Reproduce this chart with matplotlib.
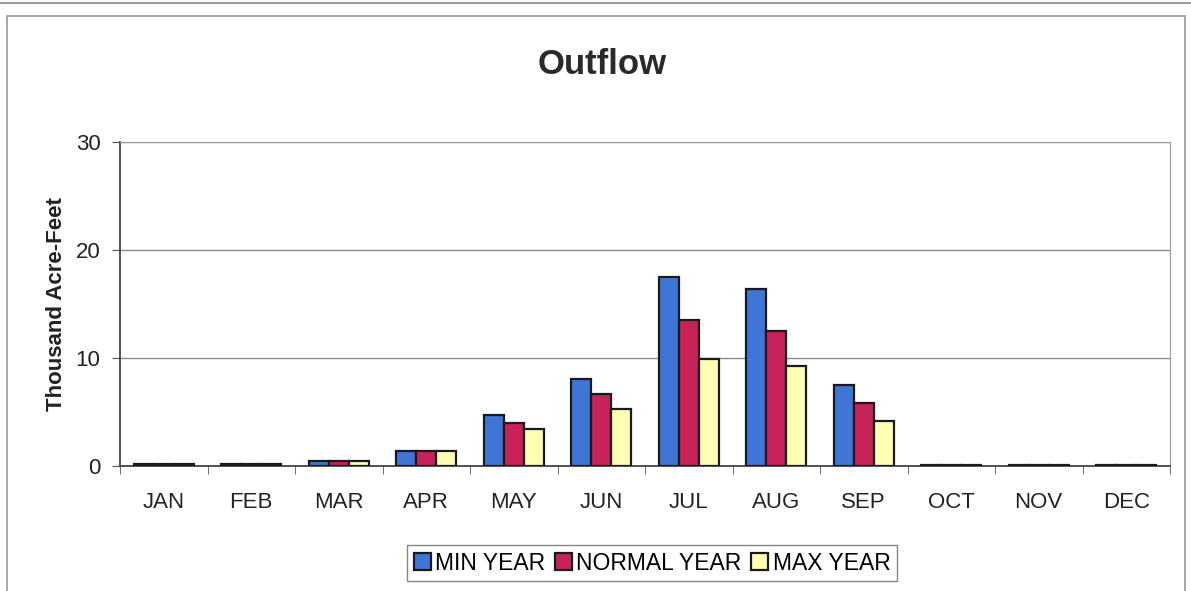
import matplotlib
matplotlib.use("Agg")
import matplotlib.pyplot as plt
import numpy as np
from matplotlib.patches import Rectangle

plt.rcParams['font.family'] = ['Liberation Sans', 'DejaVu Sans']

months = ["JAN", "FEB", "MAR", "APR", "MAY", "JUN", "JUL", "AUG", "SEP", "OCT", "NOV", "DEC"]
min_year = [0.2, 0.2, 0.5, 1.4, 4.7, 8.1, 17.5, 16.4, 7.5, 0.1, 0.1, 0.1]
normal_year = [0.2, 0.2, 0.5, 1.4, 4.0, 6.7, 13.5, 12.5, 5.8, 0.1, 0.1, 0.1]
max_year = [0.2, 0.2, 0.5, 1.4, 3.4, 5.3, 9.9, 9.3, 4.2, 0.1, 0.1, 0.1]
series_names = ["MIN YEAR", "NORMAL YEAR", "MAX YEAR"]
colors = ["#3F76D6", "#C82358", "#FFFFB4"]

fig = plt.figure(figsize=(11.91, 5.91), dpi=100)
fig.patch.set_facecolor("white")

# outer chart frame
fig.add_artist(plt.Line2D([0, 1], [1 - 3/591, 1 - 3/591], color="#999999", lw=1.5, transform=fig.transFigure))
fig.add_artist(Rectangle((7/1191, -0.01), (1185-7)/1191, (581)/591, fill=False,
                         edgecolor="#9a9a9a", lw=1.2, transform=fig.transFigure))

ax = fig.add_axes([120/1191, 1 - 466/591, (1170-120)/1191, (466-142)/591])
x = np.arange(len(months))
w = 0.23
for i, (vals, c, name) in enumerate(zip([min_year, normal_year, max_year], colors, series_names)):
    ax.bar(x + (i - 1) * w, vals, width=w, color=c, edgecolor="#1a1a1a", linewidth=1.6, label=name, zorder=3)

ax.set_xlim(-0.5, len(months) - 0.5)
ax.set_ylim(0, 30)
ax.set_yticks([0, 10, 20, 30])
ax.yaxis.grid(True, color="#8a8a8a", lw=1.0, zorder=0)
ax.set_xticks(x)
ax.set_xticklabels(months, fontsize=16, color="#222222")
ax.tick_params(axis='x', length=0, pad=19)
ax.set_xticks(np.arange(-0.5, len(months), 1.0), minor=True)
ax.tick_params(axis='x', which='minor', length=6, direction='out', color="#555555")
ax.tick_params(axis='y', labelsize=16, length=6, direction='out', color="#555555", labelcolor="#222222", pad=8)
for s in ["top", "right"]:
    ax.spines[s].set_color("#9a9a9a")
for s in ["left", "bottom"]:
    ax.spines[s].set_color("#444444")
    ax.spines[s].set_linewidth(1.3)
ax.set_ylabel("Thousand Acre-Feet", fontsize=16, fontweight="bold", color="#222222", labelpad=6)

fig.text(602/1191, 1 - 64/591, "Outflow", ha="center", va="center", fontsize=25, fontweight="bold", color="#2a2a2a")

leg = fig.legend(loc="center", bbox_to_anchor=(652/1191, 1 - 563/591), ncol=3, frameon=True,
                 fontsize=16.5, handlelength=0.75, handleheight=0.75, handletextpad=0.2, columnspacing=0.4,
                 borderpad=0.3, fancybox=False, edgecolor="#666666")
leg.get_frame().set_linewidth(1.0)

fig.savefig("out.png", dpi=100, facecolor="white")
